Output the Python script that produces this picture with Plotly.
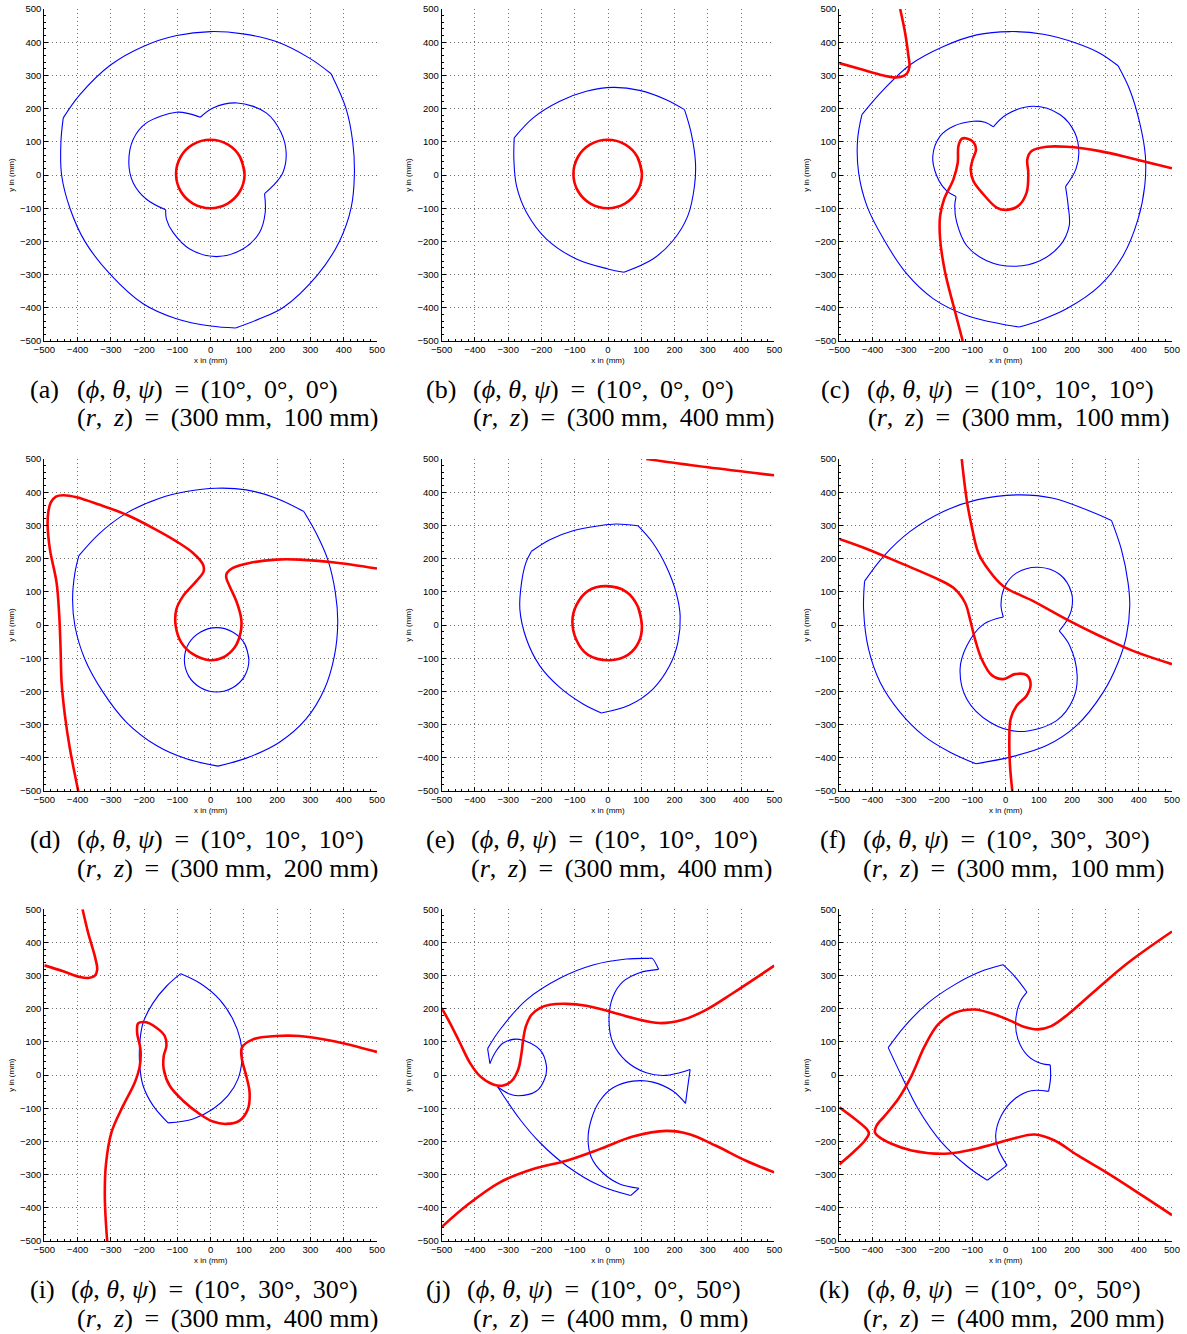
import plotly.graph_objects as go

# Workspace boundaries (blue) and singularity loci (red), in mm.
# Every curve is a list of segments; each segment is a list of (x, y) points.

A_BLUE = [
    [(-443, 172), (-393, 242), (-300, 332), (-201, 388), (-102, 420), (0, 432), (97, 425), (197, 402), (297, 352), (362, 305)],
    [(362, 305), (407, 200), (427, 100), (432, 0), (422, -100), (387, -200), (322, -300), (217, -400), (147, -433), (75, -461)],
    [(75, -461), (0, -455), (-103, -433), (-203, -388), (-303, -298), (-378, -200), (-423, -100), (-448, 0), (-450, 100), (-443, 172)],
    [(-31, 174), (7, 202), (80, 217), (167, 187), (212, 127), (227, 67), (217, 7), (187, -33), (162, -56)],
    [(162, -56), (164, -113), (147, -173), (97, -223), (17, -246), (-63, -223), (-113, -173), (-133, -133), (-135, -105)],
    [(-135, -105), (-193, -73), (-233, -23), (-246, 37), (-233, 107), (-193, 157), (-103, 189), (-63, 184), (-31, 174)],
]
A_RED = [
    [(102, 3), (88, 55), (51, 92), (-1, 106), (-53, 92), (-90, 55), (-104, 3), (-90, -49), (-53, -86), (-1, -100), (51, -86), (88, -49), (102, 3), (88, 55)],
]

B_BLUE = [
    [(-282, 112), (-225, 172), (-145, 222), (-65, 252), (15, 264), (95, 255), (175, 227), (230, 197)],
    [(230, 197), (250, 127), (263, 37), (260, -33), (240, -123), (195, -198), (135, -253), (48, -293)],
    [(48, -293), (0, -283), (-95, -253), (-185, -193), (-245, -113), (-275, -33), (-283, 47), (-282, 112)],
]
B_RED = [
    [(102, 3), (88, 55), (51, 92), (-1, 106), (-53, 92), (-90, 55), (-104, 3), (-90, -49), (-53, -86), (-1, -100), (51, -86), (88, -49), (102, 3), (88, 55)],
]

C_BLUE = [
    [(-432, 182), (-367, 257), (-287, 332), (-187, 387), (-87, 422), (13, 432), (113, 424), (213, 397), (283, 367), (338, 329)],
    [(338, 329), (373, 257), (403, 157), (420, 57), (418, -33), (398, -133), (353, -243), (283, -333), (183, -403), (103, -438), (41, -458)],
    [(41, -458), (-17, -448), (-117, -423), (-217, -373), (-297, -298), (-367, -193), (-417, -93), (-442, 7), (-445, 107), (-432, 182)],
    [(-37, 145), (3, 182), (83, 207), (163, 182), (208, 127), (220, 67), (211, 17), (180, -35)],
    [(180, -35), (188, -93), (191, -153), (163, -213), (103, -258), (23, -275), (-57, -258), (-117, -213), (-147, -143), (-153, -93), (-149, -65)],
    [(-149, -65), (-177, -48), (-207, -3), (-219, 57), (-197, 117), (-157, 147), (-97, 162), (-62, 159), (-37, 145)],
]
C_RED = [
    [(-317, 500), (-302, 427), (-292, 357), (-289, 327), (-297, 305), (-317, 295), (-337, 294), (-377, 302), (-437, 319), (-500, 337)],
    [(-129, -500), (-157, -393), (-182, -293), (-197, -193), (-197, -123), (-185, -73), (-157, -13), (-144, 37), (-142, 87),
     (-132, 109), (-117, 110), (-97, 99), (-89, 77), (-99, 47), (-105, 17), (-97, -18), (-67, -58), (-27, -98), (3, -105),
     (38, -93), (63, -53), (68, 7), (65, 47), (78, 72), (123, 85), (183, 85), (283, 72), (383, 49), (500, 20)],
]

D_BLUE = [
    [(-396, 209), (-333, 277), (-253, 337), (-153, 382), (-73, 402), (17, 412), (107, 407), (197, 382), (280, 342)],
    [(280, 342), (317, 277), (352, 197), (375, 97), (382, 7), (372, -93), (342, -193), (287, -283), (207, -353), (107, -401), (22, -425)],
    [(22, -425), (-73, -403), (-163, -363), (-253, -293), (-323, -203), (-378, -103), (-408, -3), (-415, 77), (-408, 157), (-396, 209)],
    [(115, -105), (102, -56), (66, -21), (18, -8), (-30, -21), (-66, -56), (-79, -105), (-66, -154), (-30, -189), (18, -202), (66, -189), (102, -154), (115, -105), (102, -56)],
]
D_RED = [
    [(-398, -500), (-423, -373), (-438, -273), (-448, -173), (-451, -73), (-455, 27), (-463, 127), (-483, 227), (-490, 300),
     (-488, 340), (-480, 370), (-465, 387), (-443, 391), (-403, 385), (-333, 362), (-253, 332), (-173, 292), (-103, 252),
     (-53, 217), (-23, 182), (-21, 162), (-43, 132), (-83, 87), (-103, 47), (-105, -3), (-88, -53), (-53, -88), (-3, -106),
     (37, -98), (72, -68), (90, -23), (92, 17), (79, 67), (57, 117), (47, 142), (49, 157), (67, 172), (117, 187), (197, 197),
     (267, 197), (367, 189), (500, 170)],
]

E_BLUE = [
    [(-230, 222), (-175, 257), (-105, 284), (-25, 299), (25, 304), (90, 299)],
    [(90, 299), (135, 247), (175, 177), (205, 97), (217, 27), (210, -53), (185, -123), (135, -193), (65, -241), (-20, -265)],
    [(-20, -265), (-75, -238), (-145, -188), (-205, -123), (-245, -43), (-265, 47), (-260, 127), (-247, 187), (-230, 222)],
]
E_RED = [
    [(102, -3), (90, 55), (55, 100), (-5, 117), (-60, 103), (-95, 60), (-107, 12), (-95, -45), (-60, -90), (5, -106), (60, -90), (93, -50), (102, -3), (90, 55)],
    [(115, 500), (300, 475), (500, 451)],
]

F_BLUE = [
    [(-424, 132), (-367, 207), (-287, 282), (-187, 342), (-87, 377), (33, 392), (143, 382), (243, 347), (318, 315)],
    [(318, 315), (348, 227), (368, 127), (373, 57), (363, -33), (338, -113), (293, -203), (213, -303), (123, -363), (13, -398), (-89, -418)],
    [(-89, -418), (-167, -383), (-247, -333), (-317, -263), (-377, -173), (-412, -73), (-427, 47), (-424, 132)],
    [(-7, 24), (-14, 62), (-2, 117), (33, 157), (98, 174), (163, 152), (198, 97), (198, 47), (183, 12), (161, -18)],
    [(161, -18), (193, -63), (215, -153), (203, -223), (153, -288), (43, -321), (-47, -293), (-117, -223), (-137, -133), (-117, -63), (-67, 2), (-7, 24)],
]
F_RED = [
    [(-132, 500), (-117, 377), (-102, 297), (-82, 217), (-52, 167), (-7, 117), (83, 72), (183, 17), (283, -33), (383, -78), (500, -118)],
    [(-500, 259), (-417, 229), (-317, 187), (-217, 144), (-157, 112), (-122, 67), (-107, 17), (-92, -43), (-72, -103), (-42, -151),
     (-7, -163), (28, -148), (63, -151), (75, -178), (63, -213), (33, -243), (15, -283), (11, -353), (13, -423), (20, -500)],
]

I_BLUE = [
    [(-90, 306), (-133, 268), (-173, 218), (-203, 158), (-213, 98), (-213, 28), (-203, -32), (-173, -92), (-128, -144)],
    [(-90, 306), (-33, 278), (27, 228), (67, 168), (89, 108), (94, 48), (82, -12), (52, -62), (7, -102), (-53, -132), (-128, -144)],
]
I_RED = [
    [(-385, 500), (-368, 428), (-348, 358), (-341, 318), (-348, 300), (-368, 293), (-393, 296), (-443, 313), (-500, 331)],
    [(-311, -500), (-318, -372), (-315, -272), (-298, -172), (-263, -92), (-228, -22), (-213, 28), (-211, 78), (-221, 128),
     (-218, 156), (-198, 160), (-163, 143), (-138, 118), (-133, 88), (-141, 58), (-141, 18), (-123, -32), (-83, -77),
     (-33, -117), (7, -140), (47, -147), (87, -137), (112, -102), (117, -52), (107, -2), (94, 48), (94, 83), (127, 108),
     (197, 118), (267, 118), (367, 103), (500, 70)],
]

J_BLUE = [
    [(-362, 80), (-325, 137), (-245, 227), (-145, 292), (-45, 332), (55, 350), (125, 352)],
    [(125, 352), (133, 352), (152, 319)],
    [(152, 319), (95, 309), (45, 282), (15, 237), (3, 167), (15, 97), (55, 42), (115, 7), (165, -1), (215, 7), (247, 17)],
    [(247, 17), (240, -33), (233, -85)],
    [(233, -85), (195, -48), (135, -21), (75, -18), (15, -38), (-25, -78), (-50, -133), (-60, -193), (-50, -248), (-15, -295), (35, -328), (93, -341)],
    [(93, -341), (68, -363)],
    [(68, -363), (-25, -333), (-125, -273), (-205, -203), (-265, -133), (-332, -35)],
    [(-332, -35), (-300, -55), (-270, -62), (-215, -48), (-190, -10), (-185, 27), (-205, 77), (-267, 108), (-315, 97), (-340, 67), (-355, 35)],
    [(-355, 35), (-362, 80)],
]
J_RED = [
    [(-500, 202), (-475, 157), (-445, 97), (-415, 37), (-385, -3), (-345, -28), (-315, -31), (-290, -18), (-270, 17),
     (-260, 67), (-255, 107), (-247, 147), (-230, 182), (-205, 202), (-175, 212), (-125, 215), (-65, 209), (5, 192),
     (75, 172), (155, 157), (225, 167), (295, 197), (375, 247), (500, 330)],
    [(-500, -458), (-425, -393), (-325, -323), (-225, -283), (-125, -258), (-25, -223), (75, -185), (175, -168),
     (245, -178), (325, -213), (415, -258), (500, -293)],
]

K_BLUE = [
    [(-353, 83), (-303, 148), (-233, 218), (-153, 273), (-73, 313), (-8, 333)],
    [(-8, 333), (27, 298), (64, 250)],
    [(64, 250), (42, 218), (30, 158), (37, 108), (67, 58), (107, 35), (134, 31)],
    [(134, 31), (135, -9), (129, -49)],
    [(129, -49), (77, -47), (27, -72), (-13, -122), (-30, -182), (-23, -222), (4, -272)],
    [(4, -272), (-55, -317)],
    [(-55, -317), (-113, -277), (-193, -202), (-263, -102), (-313, -2), (-353, 83)],
]
K_RED = [
    [(-500, -97), (-453, -132), (-418, -162), (-411, -175), (-423, -197), (-463, -237), (-500, -269)],
    [(500, 433), (367, 338), (267, 253), (187, 183), (137, 148), (97, 138), (57, 145), (17, 163), (-33, 183), (-93, 198),
     (-153, 188), (-203, 153), (-243, 88), (-283, -2), (-323, -72), (-363, -122), (-388, -152), (-393, -172), (-383, -184),
     (-343, -207), (-283, -227), (-183, -237), (-113, -227), (-33, -207), (27, -190), (87, -179), (147, -197), (217, -242),
     (317, -302), (417, -367), (500, -422)],
]

# Pose parameters shown under each panel
PANEL_LABELS = ["a", "b", "c", "d", "e", "f", "i", "j", "k"]
PHI = [10, 10, 10, 10, 10, 10, 10, 10, 10]
THETA = [0, 0, 10, 10, 10, 30, 30, 0, 0]
PSI = [0, 0, 10, 10, 10, 30, 30, 50, 50]
R_MM = [300, 300, 300, 300, 300, 300, 300, 400, 400]
Z_MM = [100, 400, 100, 200, 400, 100, 400, 0, 200]

BLUE_CURVES = [A_BLUE, B_BLUE, C_BLUE, D_BLUE, E_BLUE, F_BLUE, I_BLUE, J_BLUE, K_BLUE]
RED_CURVES = [A_RED, B_RED, C_RED, D_RED, E_RED, F_RED, I_RED, J_RED, K_RED]

# ---- page geometry (pixels) ----
W, H = 1187, 1334
COLS_PX = [(44.3, 377.0), (441.7, 774.3), (839.3, 1172.0)]
ROWS_PX = [(9.0, 341.0), (459.0, 791.0), (909.3, 1241.0)]
CAP_LABEL_X = [30, 426, 821, 30, 426, 820, 30, 426, 819]
CAP_L1_X = [77, 473, 867, 77, 471, 863, 71, 467, 867]
CAP_L2_X = [77, 473, 868, 77, 471, 863, 77, 473, 863]

TS = "\u2009"  # thin space, used for math-style spacing in the captions


def flatten(segments):
    xs, ys = [], []
    for seg in segments:
        for x, y in seg:
            xs.append(x)
            ys.append(y)
        xs.append(None)
        ys.append(None)
    return xs, ys


def px_x(px):
    return px / W


def px_y(py):
    return 1 - py / H


fig = go.Figure()
layout = {}
annotations = []
tickfont = dict(family="Liberation Sans, Arial, sans-serif", size=9.5, color="black")
capfont = dict(family="Liberation Serif, Times New Roman, serif", size=26, color="black")

for k in range(9):
    r, c = divmod(k, 3)
    n = k + 1
    xa, ya = ("x" if n == 1 else f"x{n}"), ("y" if n == 1 else f"y{n}")

    bx, by = flatten(BLUE_CURVES[k])
    rx, ry = flatten(RED_CURVES[k])
    fig.add_trace(go.Scatter(x=bx, y=by, mode="lines", xaxis=xa, yaxis=ya,
                             line=dict(color="#0000ff", width=1.1, shape="spline", smoothing=1.0),
                             showlegend=False, hoverinfo="skip"))
    fig.add_trace(go.Scatter(x=rx, y=ry, mode="lines", xaxis=xa, yaxis=ya,
                             line=dict(color="#ff0000", width=2.6, shape="spline", smoothing=1.0),
                             showlegend=False, hoverinfo="skip"))

    x0, x1 = COLS_PX[c]
    y0, y1 = ROWS_PX[r]
    common = dict(
        range=[-500, 500], tickmode="linear", tick0=-500, dtick=100,
        ticks="inside", ticklen=4, tickwidth=1, tickcolor="black",
        showline=True, linecolor="black", linewidth=1, mirror=False,
        showgrid=True, gridcolor="#6e6e6e", griddash="1px,3px", gridwidth=1,
        zeroline=False, tickfont=tickfont, fixedrange=True, automargin=False,
        minor=dict(ticks="inside", ticklen=2, tickcolor="black", dtick=20, tick0=-500, showgrid=False),
    )
    layout["xaxis" if n == 1 else f"xaxis{n}"] = dict(
        common, domain=[px_x(x0), px_x(x1)], anchor=ya,
        title=dict(text="x in (mm)", font=dict(tickfont, size=8), standoff=2),
    )
    layout["yaxis" if n == 1 else f"yaxis{n}"] = dict(
        common, domain=[px_y(y1), px_y(y0)], anchor=xa,
        title=dict(text="y in (mm)", font=dict(tickfont, size=8), standoff=4),
    )

    line1_y = px_y(y1 + 48)
    line2_y = px_y(y1 + 77)
    cap = dict(xref="paper", yref="paper", xanchor="left", yanchor="middle",
               showarrow=False, font=capfont, borderpad=0, borderwidth=0)
    annotations.append(dict(cap, text=f"({PANEL_LABELS[k]})", x=px_x(CAP_LABEL_X[k]), y=line1_y))
    annotations.append(dict(
        cap,
        text=(f"(<i>ϕ</i>, <i>θ</i>, <i>ψ</i>){TS} ={TS} "
              f"({PHI[k]}°,{TS} {THETA[k]}°,{TS} {PSI[k]}°)"),
        x=px_x(CAP_L1_X[k]), y=line1_y))
    annotations.append(dict(
        cap,
        text=(f"(<i>r</i>,{TS} <i>z</i>){TS} ={TS} "
              f"({R_MM[k]} mm,{TS} {Z_MM[k]} mm)"),
        x=px_x(CAP_L2_X[k]), y=line2_y))

fig.update_layout(
    width=W, height=H, margin=dict(l=0, r=0, t=0, b=0, autoexpand=False),
    paper_bgcolor="white", plot_bgcolor="white",
    annotations=annotations, **layout,
)

fig.write_html("out.html")
